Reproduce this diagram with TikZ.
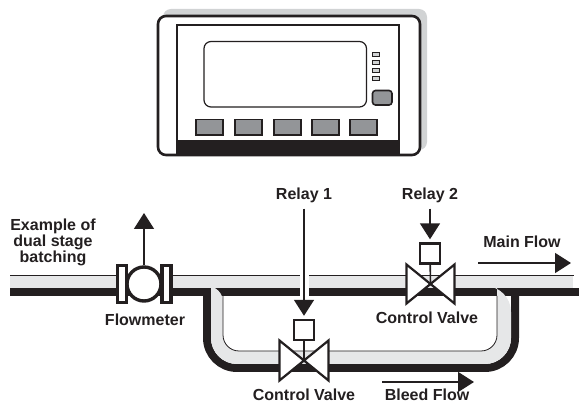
\documentclass[tikz,border=0pt]{standalone}
\usepackage{fontspec}
\setmainfont{Liberation Sans}
\usetikzlibrary{arrows.meta}
\definecolor{ink}{HTML}{231F20}
\definecolor{pipegray}{HTML}{E6E7E8}
\definecolor{shadowgray}{HTML}{D1D3D4}
\definecolor{keygray}{HTML}{939598}
\begin{document}
\begin{tikzpicture}
  [x=1pt,y=-1pt,
  label/.style={inner sep=0pt,text=ink,font=\fontsize{16}{16}\selectfont\bfseries,align=center},
  keybox/.style={draw=ink,fill=keygray,line width=1.3pt},
  ledbox/.style={draw=ink,fill=shadowgray,line width=1pt},
  actuator/.style={draw=ink,fill=white,line width=2.4pt,inner sep=0pt,minimum width=20pt,minimum height=20pt},
  valvebody/.style={draw=ink,fill=white,line width=2.2pt,miter limit=3},
  flange/.style={draw=ink,fill=white,line width=3.2pt},
  flow/.style={draw=ink,line width=1.6pt,-{Triangle[length=16pt,width=20pt]}}]
  \useasboundingbox (0,0) rectangle (579,403);

  % indicator
  \fill[shadowgray,rounded corners=8pt] (163,9) rectangle (427,150);
  \draw[ink,fill=white,line width=2.6pt,rounded corners=8pt] (158,16) rectangle (420,155);
  \draw[ink,line width=1.2pt] (177,155) -- (177,25) -- (399,25) -- (399,155);
  \fill[ink] (176.5,140) rectangle (399.5,156);
  \draw[ink,line width=1.2pt,rounded corners=7pt] (204,41.5) rectangle (366.5,107);
  \foreach \y in {53,61,69,77}
    \draw[ledbox] (372,\y) rectangle (379.5,\y+4);
  \draw[keybox,line width=1.6pt,rounded corners=3pt] (372.5,90.5) rectangle (392,105);
  \foreach \x in {196,235,274,312,350}
    \draw[keybox] (\x,119.5) rectangle (\x+27,135);

  % pipes
  \draw[ink,line width=8pt,rounded corners=30pt] (207,288) -- (207,368) -- (515,368) -- (515,288);
  \fill[ink] (10,288) rectangle (579,296);
  \fill[pipegray] (10,275) rectangle (573,288);
  \fill[pipegray] (211,286) [rounded corners=26pt] -- (211,364) -- (511,364) -- (511,286) [sharp corners]
    -- (497,286) [rounded corners=16pt] -- (497,351) -- (223,351) -- (223,286) [sharp corners] -- cycle;
  \draw[ink,line width=.8pt] (10,275) -- (574,275);
  \draw[ink,line width=.8pt,rounded corners=16pt] (223,296) -- (223,351) -- (497,351) -- (497,296);
  \fill[white] (299.5,274) rectangle (308.5,296.5);

  % flowmeter
  \node[label] (flowmeter) at (145,320) {Flowmeter};
  \node[draw=ink,fill=white,circle,line width=3.4pt,inner sep=0pt,minimum size=34pt] (meter) at (144,284) {};
  \node[flange,inner sep=0pt,minimum width=9pt,minimum height=37pt] (flangeL) at (122,284) {};
  \node[flange,inner sep=0pt,minimum width=9pt,minimum height=37pt] (flangeR) at (166.5,284) {};
  \coordinate (output) at (144,213);
  \draw[flow] (meter.north) -- (output);

  % valves
  \coordinate (valve1) at (304,360.5);
  \coordinate (valve2) at (430.5,284);
  \draw[valvebody] (279.5,340.5) -- (328.5,380.5) -- (328.5,340.5) -- (279.5,380.5) -- cycle;
  \draw[valvebody] (406.5,264.5) -- (454.5,303.5) -- (454.5,264.5) -- (406.5,303.5) -- cycle;
  \node[actuator] (box1) at (304,330) {};
  \node[actuator] (box2) at (430,253.5) {};
  \draw[ink,line width=1.6pt] (box1) -- (valve1);
  \draw[ink,line width=1.6pt] (box2) -- (valve2);

  % labels
  \node[label] (relay1) at (304,195) {Relay 1};
  \node[label] (relay2) at (430,195) {Relay 2};
  \node[label] (batch) at (53,242) {Example of\\dual stage\\batching};
  \node[label] (valve1txt) at (304,395) {Control Valve};
  \node[label] (valve2txt) at (427,318) {Control Valve};
  \node[label] (mainflow) at (522,242) {Main Flow};
  \node[label] (bleedflow) at (427,395) {Bleed Flow};

  \draw[flow,shorten <=6pt,shorten >=3pt] (relay1.south) -- (box1.north);
  \draw[flow,shorten <=6pt,shorten >=3pt] (relay2.south) -- (box2.north);
  \coordinate (mainA) at (478,263);
  \coordinate (mainB) at (571,263);
  \coordinate (bleedA) at (382,382);
  \coordinate (bleedB) at (474,382);
  \draw[flow] (mainA) -- (mainB);
  \draw[flow] (bleedA) -- (bleedB);
\end{tikzpicture}
\end{document}
